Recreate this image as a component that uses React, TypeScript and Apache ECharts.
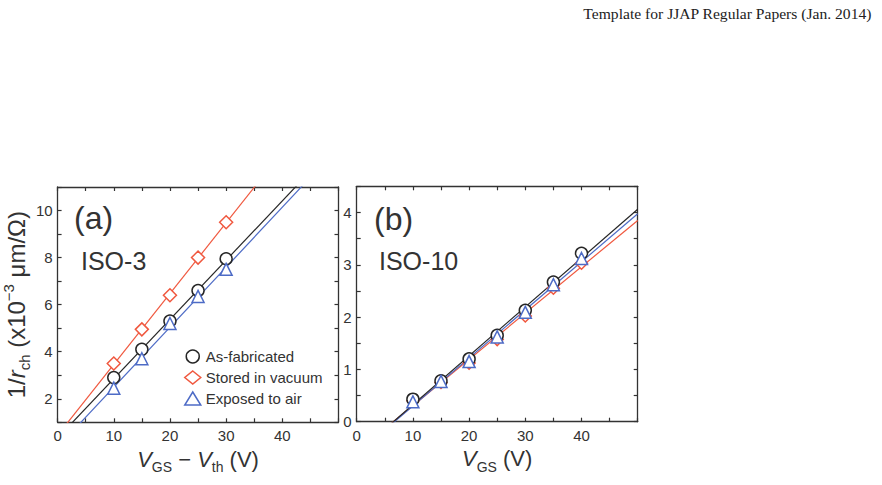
import React, { useEffect, useRef } from "react";
import * as echarts from "echarts";

// Panel (a): ISO-3, reciprocal channel resistance vs. overdrive voltage
const vgsA = [10, 15, 20, 25, 30];
const asFabA = [2.9, 4.1, 5.3, 6.6, 7.95];
const vacuumA = [3.5, 4.95, 6.4, 8.0, 9.5];
const airA = [2.45, 3.7, 5.2, 6.35, 7.5];

// Panel (b): ISO-10, reciprocal channel resistance vs. gate voltage
const vgsB = [10, 15, 20, 25, 30, 35, 40];
const asFabB = [0.43, 0.78, 1.2, 1.65, 2.13, 2.67, 3.22];
const vacuumB = [0.4, 0.75, 1.12, 1.57, 2.02, 2.55, 3.03];
const airB = [0.38, 0.77, 1.15, 1.62, 2.09, 2.62, 3.12];

// Tick labels
const xTickLabels = [0, 10, 20, 30, 40];
const yTickLabelsA = [2, 4, 6, 8, 10];
const yTickLabelsB = [0, 1, 2, 3, 4];

const seriesNames = ["As-fabricated", "Stored in vacuum", "Exposed to air"];

const BLACK = "#262626";
const RED = "#f0583f";
const BLUE = "#4d6bc6";
const AXIS = "#333333";
const FONT = "'Liberation Sans', Arial, Helvetica, sans-serif";

// Least-squares straight line through (x, y) points
function fit(xs: number[], ys: number[]) {
  const n = xs.length;
  const mx = xs.reduce((a, b) => a + b, 0) / n;
  const my = ys.reduce((a, b) => a + b, 0) / n;
  let sxy = 0;
  let sxx = 0;
  for (let i = 0; i < n; i++) {
    sxy += (xs[i] - mx) * (ys[i] - my);
    sxx += (xs[i] - mx) * (xs[i] - mx);
  }
  const m = sxy / sxx;
  return { m, b: my - m * mx };
}

function fitLine(xs: number[], ys: number[], x0: number, x1: number) {
  const { m, b } = fit(xs, ys);
  return [
    [x0, m * x0 + b],
    [x1, m * x1 + b],
  ];
}

const richStyles = {
  n: { fontSize: 22, fontFamily: FONT, color: AXIS, lineHeight: 22 },
  i: { fontSize: 22, fontFamily: FONT, color: AXIS, fontStyle: "italic", lineHeight: 22 },
  sub: { fontSize: 14, fontFamily: FONT, color: AXIS, lineHeight: 14, padding: [16, 0, 0, 0] },
  sup: { fontSize: 14, fontFamily: FONT, color: AXIS, lineHeight: 14, padding: [0, 0, 16, 0] },
};

const tickLabel = (labels: number[]) => (v: number) =>
  labels.some((l) => Math.abs(l - v) < 1e-9) ? String(v) : "";

function xAxes(gridIndex: number, name: string) {
  const common = {
    type: "value",
    gridIndex,
    min: 0,
    max: 50,
    interval: 5,
    splitLine: { show: false },
    axisLine: { show: true, onZero: false, lineStyle: { color: AXIS, width: 1.3 } },
    axisTick: { show: true, inside: true, length: 4, lineStyle: { color: AXIS, width: 1.2 } },
  };
  return [
    {
      ...common,
      position: "bottom",
      axisLabel: {
        formatter: tickLabel(xTickLabels),
        fontSize: 15,
        fontFamily: FONT,
        color: AXIS,
        margin: 6,
        showMaxLabel: true,
      },
      name,
      nameLocation: "middle",
      nameGap: 21,
      nameTextStyle: { rich: richStyles },
    },
    { ...common, position: "top", axisLabel: { show: false } },
  ];
}

function yAxes(gridIndex: number, min: number, max: number, interval: number, labels: number[], name?: string) {
  const common = {
    type: "value",
    gridIndex,
    min,
    max,
    interval,
    splitLine: { show: false },
    axisLine: { show: true, onZero: false, lineStyle: { color: AXIS, width: 1.3 } },
    axisTick: { show: true, inside: true, length: 4, lineStyle: { color: AXIS, width: 1.2 } },
  };
  const left: any = {
    ...common,
    position: "left",
    axisLabel: {
      formatter: tickLabel(labels),
      fontSize: 15,
      fontFamily: FONT,
      color: AXIS,
      margin: 5,
    },
  };
  if (name) {
    left.name = name;
    left.nameLocation = "middle";
    left.nameRotate = 90;
    left.nameGap = 27;
    left.nameTextStyle = {
      rich: {
        n: { ...richStyles.n, fontSize: 24, lineHeight: 24 },
        i: { ...richStyles.i, fontSize: 24, lineHeight: 24 },
        sub: { ...richStyles.sub, fontSize: 15, lineHeight: 15 },
        sup: { ...richStyles.sup, fontSize: 15, lineHeight: 15 },
      },
    };
  }
  return [left, { ...common, position: "right", axisLabel: { show: false } }];
}

function lineSeries(name: string, color: string, xi: number, yi: number, data: number[][]) {
  return {
    type: "line",
    name,
    xAxisIndex: xi,
    yAxisIndex: yi,
    data,
    symbol: "none",
    clip: true,
    silent: true,
    lineStyle: { color, width: 1.2 },
    z: 2,
  };
}

function scatterSeries(name: string, symbol: string, color: string, xi: number, yi: number, xs: number[], ys: number[], size: number) {
  return {
    type: "scatter",
    name,
    xAxisIndex: xi,
    yAxisIndex: yi,
    data: xs.map((x, k) => [x, ys[k]]),
    symbol,
    symbolSize: size,
    itemStyle: { color: "#ffffff", borderColor: color, borderWidth: 1.5, opacity: 1 },
    z: 3,
  };
}

export default function App() {
  const ref = useRef<HTMLDivElement>(null);

  useEffect(() => {
    if (!ref.current) return;
    const chart = echarts.init(ref.current, null, { renderer: "svg" });

    const option: any = {
      animation: false,
      backgroundColor: "#ffffff",
      grid: [
        { left: 55.5, top: 187, width: 283, height: 235.3 },
        { left: 356.7, top: 186.3, width: 281, height: 235.4 },
      ],
      xAxis: [
        ...xAxes(0, "{i|V}{sub|GS}{n| − }{i|V}{sub|th}{n| (V)}"),
        ...xAxes(1, "{i|V}{sub|GS}{n| (V)}"),
      ],
      yAxis: [
        ...yAxes(0, 1, 11, 1, yTickLabelsA, "{n|1/}{i|r}{sub|ch}{n| (x10}{sup|−3}{n| μm/Ω)}"),
        ...yAxes(1, 0, 4.5, 0.5, yTickLabelsB),
      ],
      legend: {
        orient: "vertical",
        left: 179,
        top: 344,
        padding: 5,
        itemWidth: 16,
        itemHeight: 13,
        itemGap: 6,
        selectedMode: false,
        textStyle: { fontSize: 15, fontFamily: FONT, color: AXIS },
        data: [
          { name: seriesNames[0], icon: "circle", itemStyle: { color: "transparent", borderColor: BLACK, borderWidth: 1.5 } },
          { name: seriesNames[1], icon: "diamond", itemStyle: { color: "transparent", borderColor: RED, borderWidth: 1.5 } },
          { name: seriesNames[2], icon: "triangle", itemStyle: { color: "transparent", borderColor: BLUE, borderWidth: 1.5 } },
        ],
      },
      series: [
        // fitted lines, panel (a)
        lineSeries("fit-a-vacuum", RED, 0, 0, fitLine(vgsA, vacuumA, 0, 50)),
        lineSeries("fit-a-asfab", BLACK, 0, 0, fitLine(vgsA, asFabA, 0, 50)),
        lineSeries("fit-a-air", BLUE, 0, 0, fitLine(vgsA, airA, 0, 50)),
        // fitted lines, panel (b)
        lineSeries("fit-b-vacuum", RED, 2, 2, fitLine(vgsB, vacuumB, 0, 50)),
        lineSeries("fit-b-air", BLUE, 2, 2, fitLine(vgsB, airB, 0, 50)),
        lineSeries("fit-b-asfab", BLACK, 2, 2, fitLine(vgsB, asFabB, 0, 50)),
        // measured points
        scatterSeries(seriesNames[1], "diamond", RED, 0, 0, vgsA, vacuumA, 13),
        scatterSeries(seriesNames[0], "circle", BLACK, 0, 0, vgsA, asFabA, 12),
        scatterSeries(seriesNames[2], "triangle", BLUE, 0, 0, vgsA, airA, 12),
        scatterSeries(seriesNames[1], "diamond", RED, 2, 2, vgsB, vacuumB, 12),
        scatterSeries(seriesNames[0], "circle", BLACK, 2, 2, vgsB, asFabB, 12),
        scatterSeries(seriesNames[2], "triangle", BLUE, 2, 2, vgsB, airB, 12),
      ],
      graphic: [
        {
          type: "text",
          right: 10,
          top: 5,
          style: { text: "Template for JJAP Regular Papers (Jan. 2014)", font: "15.6px 'Liberation Serif', 'Times New Roman', serif", fill: "#222" },
        },
        { type: "text", left: 74, top: 202, style: { text: "(a)", font: `32px ${FONT}`, fill: AXIS } },
        { type: "text", left: 81, top: 248, style: { text: "ISO-3", font: `25px ${FONT}`, fill: AXIS } },
        { type: "text", left: 374, top: 203, style: { text: "(b)", font: `32px ${FONT}`, fill: AXIS } },
        { type: "text", left: 379, top: 248, style: { text: "ISO-10", font: `25px ${FONT}`, fill: AXIS } },
      ],
    };

    chart.setOption(option);
    return () => chart.dispose();
  }, []);

  return (
    <div
      ref={ref}
      style={{ position: "fixed", left: 0, top: 0, width: 882, height: 485, background: "#fff" }}
    />
  );
}
